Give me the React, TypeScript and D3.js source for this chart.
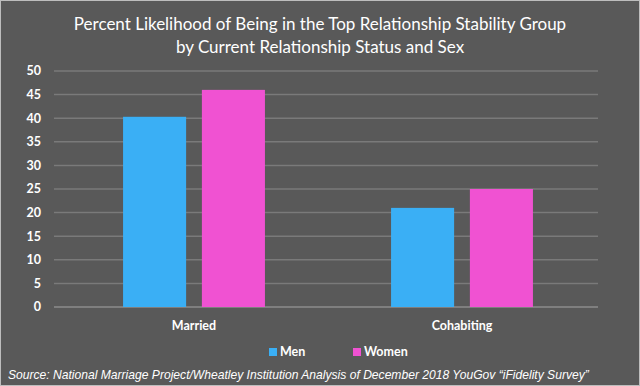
import React from "react";
import * as d3 from "d3";

const categories = ["Married", "Cohabiting"];
const seriesNames = ["Men", "Women"];
const men = [40.3, 21];
const women = [46, 25];
const yTicks = [0, 5, 10, 15, 20, 25, 30, 35, 40, 45, 50];
const colors = ["#3aaff5", "#f052d2"];
const titleLines = [
  "Percent Likelihood of Being in the Top Relationship Stability Group",
  "by Current Relationship Status and Sex",
];
const source =
  "Source: National Marriage Project/Wheatley Institution Analysis of December 2018 YouGov \u201ciFidelity Survey\u201d";

export default function App() {
  const W = 640;
  const H = 386;
  const x0 = d3.scaleBand<string>().domain(categories).range([60, 596]);
  const x1 = d3
    .scaleBand<string>()
    .domain(seriesNames)
    .range([0, x0.bandwidth()])
    .paddingInner(0.2)
    .paddingOuter(0.8);
  const y = d3.scaleLinear().domain([0, 50]).range([307, 71]);
  const values = [men, women];
  const font = "Lato, 'Open Sans', sans-serif";
  return (
    <div style={{ position: "absolute", left: 0, top: 0 }}>
      <svg width={W} height={H} style={{ display: "block" }}>
        <rect x={0} y={0} width={W} height={H} fill="#595959" />
        <rect x={0.5} y={0.5} width={W - 1} height={H - 1} fill="none" stroke="#bdbdbd" />
        {titleLines.map((t, i) => (
          <text
            key={i}
            x={320}
            y={30 + i * 23}
            textAnchor="middle"
            fill="#ffffff"
            fontFamily={font}
            fontSize={17}
          >
            {t}
          </text>
        ))}
        {yTicks.map((t) => (
          <g key={t}>
            <line x1={54} x2={598} y1={y(t)} y2={y(t)} stroke={t === 0 ? "#8c8c8c" : "#7a7a7a"} strokeWidth={1.5} />
            <text
              x={41}
              y={y(t)}
              dy="0.35em"
              textAnchor="end"
              fill="#ffffff"
              fontFamily={font}
              fontWeight="bold"
              fontSize={12.5}
            >
              {t}
            </text>
          </g>
        ))}
        {categories.map((c, ci) => (
          <g key={c} transform={`translate(${x0(c)},0)`}>
            {seriesNames.map((s, si) => (
              <rect
                key={s}
                x={x1(s)}
                y={y(values[si][ci])}
                width={x1.bandwidth()}
                height={y(0) - y(values[si][ci])}
                fill={colors[si]}
              />
            ))}
            <text
              x={x0.bandwidth() / 2}
              y={330}
              textAnchor="middle"
              fill="#ffffff"
              fontFamily={font}
              fontWeight="bold"
              fontSize={12.5}
            >
              {c}
            </text>
          </g>
        ))}
        {seriesNames.map((s, i) => {
          const lx = [269, 353][i];
          return (
            <g key={s}>
              <rect x={lx} y={348} width={8} height={8} fill={colors[i]} />
              <text
                x={lx + 11}
                y={356}
                fill="#ffffff"
                fontFamily={font}
                fontWeight="bold"
                fontSize={12.5}
              >
                {s}
              </text>
            </g>
          );
        })}
        <text
          x={8}
          y={379}
          fill="#ffffff"
          fontFamily="'Liberation Sans', Arial, sans-serif"
          fontStyle="italic"
          fontSize={12.1}
        >
          {source}
        </text>
      </svg>
    </div>
  );
}
